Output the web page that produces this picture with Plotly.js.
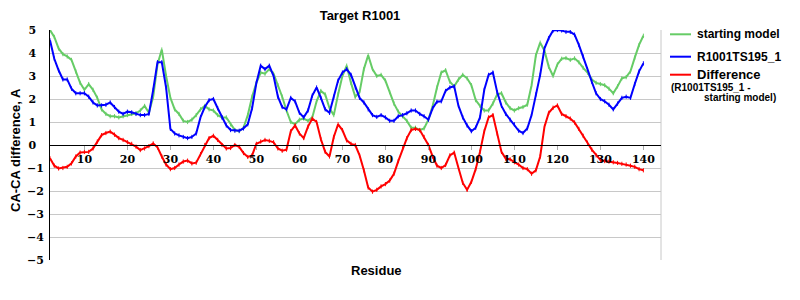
<!DOCTYPE html>
<html>
<head>
<meta charset="utf-8">
<script src="https://cdn.plot.ly/plotly-3.0.1.min.js"></script>
<style>html,body{margin:0;padding:0;background:#fff;}#chart{width:800px;height:300px;}</style>
</head>
<body>
<div id="chart"></div>
<script>
var residues = [2,3,4,5,6,7,8,9,10,11,12,13,14,15,16,17,18,19,20,21,22,23,24,25,26,27,28,29,30,31,32,33,34,35,36,37,38,39,40,41,42,43,44,45,46,47,48,49,50,51,52,53,54,55,56,57,58,59,60,61,62,63,64,65,66,67,68,69,70,71,72,73,74,75,76,77,78,79,80,81,82,83,84,85,86,87,88,89,90,91,92,93,94,95,96,97,98,99,100,101,102,103,104,105,106,107,108,109,110,111,112,113,114,115,116,117,118,119,120,121,122,123,124,125,126,127,128,129,130,131,132,133,134,135,136,137,138,139,140];

var startingModel = [
 5.0, 4.7, 4.2, 3.95, 3.85, 3.7, 3.2, 2.7, 2.4, 2.65,
 2.4, 2.05, 1.55, 1.35, 1.25, 1.25, 1.2, 1.25, 1.3, 1.35,
 1.38, 1.5, 1.7, 1.4, 2.1, 3.5, 4.15, 3.0, 2.05, 1.55,
 1.35, 1.05, 1.0, 1.1, 1.3, 1.55, 1.7, 1.55, 1.5, 1.3,
 1.2, 1.2, 0.9, 0.65, 0.6, 0.75, 1.3, 2.1, 2.7, 3.15,
 3.1, 3.3, 3.1, 2.6, 2.1, 1.5, 1.0, 0.9, 1.1, 1.15,
 1.05, 1.2, 1.9, 2.35, 2.2, 1.6, 1.3, 2.2, 3.0, 3.45,
 2.7, 2.1, 2.3, 3.3, 3.9, 3.3, 3.0, 3.05, 2.8, 2.3,
 1.8, 1.45, 1.25, 1.05, 0.75, 0.75, 0.65, 0.72, 1.1, 1.7,
 2.5, 3.15, 3.25, 2.75, 2.55, 2.85, 3.05, 2.9, 2.6, 1.95,
 1.7, 1.5, 1.5, 1.8, 2.2, 2.25, 1.85, 1.6, 1.5, 1.6,
 1.65, 1.75, 2.6, 3.9, 4.45, 4.1, 3.4, 3.0, 3.5, 3.75,
 3.78, 3.7, 3.77, 3.6, 3.35, 3.15, 2.85, 2.7, 2.65, 2.6,
 2.45, 2.25, 2.55, 2.9, 2.95, 3.2, 3.8, 4.35, 4.75
];

var modelTS195 = [
 4.55, 3.75, 3.25, 2.85, 2.85, 2.45, 2.25, 2.25, 2.25, 2.1,
 1.85, 1.72, 1.72, 1.75, 1.85, 1.65, 1.45, 1.35, 1.45, 1.42,
 1.35, 1.3, 1.3, 1.35, 2.4, 3.6, 3.6, 2.5, 0.7, 0.5,
 0.42, 0.35, 0.3, 0.35, 0.5, 1.2, 1.65, 1.95, 2.0, 1.6,
 1.2, 0.85, 0.65, 0.62, 0.62, 0.72, 0.9, 1.6, 2.7, 3.45,
 3.3, 3.45, 3.0, 2.1, 1.65, 1.55, 2.05, 1.9, 1.4, 1.2,
 1.5, 2.15, 2.5, 2.05, 1.55, 1.4, 2.1, 2.8, 3.15, 3.3,
 3.05, 2.5, 2.05, 1.85, 1.55, 1.3, 1.22, 1.3, 1.2, 1.05,
 1.05, 1.25, 1.3, 1.38, 1.5, 1.5, 1.35, 1.25, 1.1, 1.6,
 1.88, 1.9, 2.35, 2.5, 2.55, 1.7, 1.2, 0.85, 0.6, 0.75,
 1.2, 2.4, 3.05, 3.15, 2.3, 1.7, 1.35, 1.1, 0.9, 0.62,
 0.52, 0.72, 1.3, 2.2, 3.05, 4.2, 4.65, 4.98, 5.0, 4.98,
 4.92, 4.92, 4.8, 4.35, 3.85, 3.3, 2.75, 2.25, 2.0, 1.9,
 1.75, 1.55, 1.8, 2.05, 2.1, 2.05, 2.65, 3.2, 3.55
];

var difference = [
 -0.58, -0.9, -1.02, -1.0, -0.95, -0.8, -0.5, -0.33, -0.3, -0.3,
 -0.15, 0.15, 0.43, 0.52, 0.58, 0.45, 0.3, 0.22, 0.12, 0.05,
 -0.07, -0.22, -0.15, -0.05, 0.07, -0.1, -0.5, -0.85, -1.05, -1.0,
 -0.85, -0.72, -0.68, -0.8, -0.77, -0.4, 0.0, 0.3, 0.4, 0.22,
 0.0, -0.15, -0.13, 0.0, -0.08, -0.35, -0.52, -0.45, 0.05, 0.15,
 0.22, 0.18, 0.12, -0.15, -0.25, -0.2, 0.6, 0.85, 0.5, 0.3,
 0.8, 1.15, 1.0, 0.25, -0.3, -0.5, 0.35, 0.9, 0.65, 0.2,
 0.05, 0.0, -0.45, -1.1, -1.85, -2.03, -1.95, -1.8, -1.7, -1.55,
 -1.25, -0.7, -0.15, 0.3, 0.65, 0.7, 0.65, 0.35, 0.0, -0.5,
 -0.9, -1.0, -0.87, -0.45, -0.33, -1.0, -1.65, -1.95, -1.6, -1.05,
 -0.3, 0.6, 1.2, 1.3, 0.5, -0.3, -0.6, -0.62, -0.75, -0.85,
 -1.0, -1.05, -1.25, -1.1, -0.5, 0.8, 1.4, 1.62, 1.72, 1.35,
 1.25, 1.15, 0.98, 0.7, 0.4, 0.1, -0.2, -0.45, -0.65, -0.7,
 -0.72, -0.75, -0.78, -0.82, -0.85, -0.9, -0.95, -1.05, -1.1
];

var xTickVals = [10,20,30,40,50,60,70,80,90,100,110,120,130,140];
var yTickVals = [-5,-4,-3,-2,-1,0,1,2,3,4,5];
var yTickText = ['\u22125','\u22124','\u22123','\u22122','\u22121','0\u2007','1\u2007','2\u2007','3\u2007','4\u2007','5\u2007'];

var seriesNames = ['starting model', 'R1001TS195_1', 'Difference'];
var seriesColors = ['#66cc66', '#0000ff', '#ff0000'];
var seriesData = [startingModel, modelTS195, difference];

var sans = 'Liberation Sans, Arial, sans-serif';
var tickFont = {family: 'DejaVu Serif, serif', size: 11, color: '#000', weight: 'bold'};

var traces = seriesData.map(function(d, i) {
  return {
    x: residues, y: d, type: 'scatter', mode: 'lines+markers', name: seriesNames[i],
    line: {color: seriesColors[i], width: 2},
    marker: {symbol: 'line-ns-open', size: 3, color: seriesColors[i], line: {color: seriesColors[i], width: 1}},
    hoverinfo: 'x+y'
  };
});

function px(x) { return (x - 50) / 611; }
function py(y) { return (260 - y) / 230; }

var legendY = [34.3, 56.7, 74.7];
var shapes = [
  {type: 'line', xref: 'paper', yref: 'paper', x0: 1, x1: 1, y0: 0, y1: 1, line: {color: '#c8c8c8', width: 1}, layer: 'below'}
];
var annotations = [
  {text: 'CA-CA difference, A', xref: 'paper', yref: 'paper', x: px(15), y: py(150), textangle: -90, showarrow: false, font: {family: sans, size: 13, color: '#000', weight: 'bold'}, xanchor: 'center', yanchor: 'middle'},
  {text: 'Residue', xref: 'paper', yref: 'paper', x: px(376), y: py(270), showarrow: false, font: {family: sans, size: 13, color: '#000', weight: 'bold'}, xanchor: 'center', yanchor: 'middle'}
];
seriesNames.forEach(function(n, i) {
  shapes.push({type: 'line', xref: 'paper', yref: 'paper', x0: px(670), x1: px(691), y0: py(legendY[i]), y1: py(legendY[i]), line: {color: seriesColors[i], width: 2}});
  annotations.push({text: n, xref: 'paper', yref: 'paper', x: px(695), y: py(legendY[i]), showarrow: false, xanchor: 'left', yanchor: 'middle', font: {family: sans, size: i === 2 ? 13 : 12, color: '#000', weight: 'bold'}});
});
annotations.push({text: '(R1001TS195_1 -', xref: 'paper', yref: 'paper', x: px(669), y: py(87.3), showarrow: false, xanchor: 'left', yanchor: 'middle', font: {family: sans, size: 10, color: '#000', weight: 'bold'}});
annotations.push({text: 'starting model)', xref: 'paper', yref: 'paper', x: px(778), y: py(97.7), showarrow: false, xanchor: 'right', yanchor: 'middle', font: {family: sans, size: 10, color: '#000', weight: 'bold'}});

var layout = {
  width: 800, height: 300,
  margin: {l: 50, r: 139, t: 30, b: 40, pad: 0},
  paper_bgcolor: '#fff', plot_bgcolor: '#fff',
  showlegend: false,
  title: {text: 'Target R1001', x: 0.45, xref: 'container', y: 0.95, yref: 'container', xanchor: 'center', yanchor: 'middle', font: {family: sans, size: 13, color: '#000', weight: 'bold'}},
  xaxis: {
    range: [2, 144.1], tickvals: xTickVals, anchor: 'free', position: 0.5,
    showline: true, linecolor: '#000', linewidth: 1, showgrid: false, zeroline: false,
    ticks: 'outside', ticklen: 4, tickcolor: '#aaa', tickfont: tickFont, fixedrange: true
  },
  yaxis: {
    range: [-5, 5], tickvals: yTickVals, ticktext: yTickText,
    showline: true, linecolor: '#000', linewidth: 1, showgrid: true, gridcolor: '#c8c8c8', gridwidth: 1,
    zeroline: false, ticks: '', ticklen: 0, ticklabelstandoff: 3, tickfont: tickFont, fixedrange: true
  },
  shapes: shapes,
  annotations: annotations
};

Plotly.newPlot('chart', traces, layout, {displayModeBar: false, staticPlot: true});
</script>
</body>
</html>
